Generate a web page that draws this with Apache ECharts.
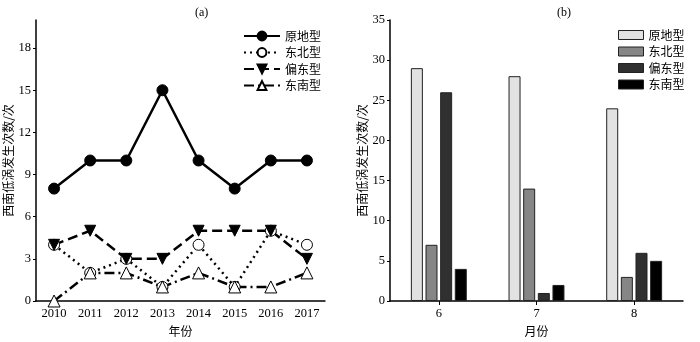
<!DOCTYPE html>
<html><head><meta charset="utf-8">
<script src="https://cdn.jsdelivr.net/npm/echarts@6/dist/echarts.min.js"></script>
<style>html,body{margin:0;padding:0;background:#fff}#c{width:700px;height:342px}</style>
</head><body><div id="c"></div>
<script>
const years = ['2010','2011','2012','2013','2014','2015','2016','2017'];
const months = ['6','7','8'];
const names = ['原地型','东北型','偏东型','东南型'];
const yuandi = [8,10,10,15,10,8,10,10];
const dongbei = [4,2,3,1,4,1,5,4];
const piandong = [4,5,3,3,5,5,5,3];
const dongnan = [0,2,2,1,2,1,1,2];
const barYuandi = [29,28,24];
const barDongbei = [7,14,3];
const barPiandong = [26,1,6];
const barDongnan = [4,2,5];
const barColors = ['#e2e2e2','#868686','#303030','#000'];
const yTicksA = [0,3,6,9,12,15,18];
const yTicksB = [0,5,10,15,20,25,30,35];

const serif = 'Liberation Serif';
const cjk = '"Noto Sans CJK SC"';
const axisTxt = {color:'#000', fontFamily:serif, fontSize:12.5};
const yName = '西南低涡发生次数/次';

function lineSeries(name, data, type, symbol, fill, rotate, size){
  return {name, type:'line', data, xAxisIndex:0, yAxisIndex:0,
    symbol, symbolSize:size, symbolRotate:rotate,
    lineStyle:{color:'#000', width:2.5, type},
    itemStyle:{color:fill, borderColor:'#000', borderWidth:1},
    z: 3};
}
function barSeries(name, data, color){
  return {name, type:'bar', data, xAxisIndex:1, yAxisIndex:1,
    barWidth:12, barGap:'22%',
    itemStyle:{color, borderColor:'#222', borderWidth:1}};
}

const option = {
  animation:false,
  title:[
    {text:'(a)', left:190, top:2, textStyle:{fontFamily:serif, fontSize:12, fontWeight:'normal', color:'#000'}},
    {text:'(b)', left:552, top:2, textStyle:{fontFamily:serif, fontSize:12, fontWeight:'normal', color:'#000'}}
  ],
  legend:[
    {data:names, left:238, top:25, orient:'vertical', itemWidth:36, itemHeight:11, itemGap:4.5,
     textStyle:{fontFamily:cjk, fontSize:12, color:'#000', lineHeight:12}},
    {data:names.map((n,i)=>({name:n, icon:'rect', itemStyle:{color:barColors[i], borderColor:'#222', borderWidth:1}})),
     left:613, top:24, orient:'vertical', itemWidth:25, itemHeight:9, itemGap:4.5,
     textStyle:{fontFamily:cjk, fontSize:12, color:'#000', lineHeight:12}}
  ],
  grid:[
    {left:36, right:375, top:20, bottom:34},
    {left:390, right:17, top:20, bottom:34}
  ],
  xAxis:[
    {type:'category', gridIndex:0, data:years, boundaryGap:true,
     axisLine:{lineStyle:{color:'#000', width:1.5}}, axisTick:{show:false},
     axisLabel:{...axisTxt, margin:6},
     name:'年份', nameLocation:'middle', nameGap:24, nameTextStyle:{fontFamily:cjk, fontSize:12, color:'#000'}},
    {type:'category', gridIndex:1, data:months, boundaryGap:true,
     axisLine:{lineStyle:{color:'#000', width:1.5}}, axisTick:{show:true, alignWithLabel:true, length:4, lineStyle:{color:'#000'}},
     axisLabel:{...axisTxt, margin:6},
     name:'月份', nameLocation:'middle', nameGap:24, nameTextStyle:{fontFamily:cjk, fontSize:12, color:'#000'}}
  ],
  yAxis:[
    {type:'value', gridIndex:0, min:yTicksA[0], max:20, interval:3,
     axisLine:{show:true, lineStyle:{color:'#000', width:1.5}}, axisTick:{show:true, length:3, lineStyle:{color:'#000'}},
     axisLabel:{...axisTxt, margin:5, showMaxLabel:false,
       formatter:v=>yTicksA.includes(v)?String(v):''},
     splitLine:{show:false},
     name:yName, nameLocation:'middle', nameGap:22, nameTextStyle:{fontFamily:cjk, fontSize:12, color:'#000'}},
    {type:'value', gridIndex:1, min:yTicksB[0], max:yTicksB[yTicksB.length-1], interval:5,
     axisLine:{show:true, lineStyle:{color:'#000', width:1.5}}, axisTick:{show:true, length:3, lineStyle:{color:'#000'}},
     axisLabel:{...axisTxt, margin:5},
     splitLine:{show:false},
     name:yName, nameLocation:'middle', nameGap:22, nameTextStyle:{fontFamily:cjk, fontSize:12, color:'#000'}}
  ],
  series:[
    lineSeries(names[0], yuandi, 'solid', 'circle', '#000', 0, 11),
    lineSeries(names[1], dongbei, [2,4], 'circle', '#fff', 0, 11),
    lineSeries(names[2], piandong, [10,5], 'triangle', '#000', 180, 11),
    lineSeries(names[3], dongnan, [10,4,2,4], 'triangle', '#fff', 0, 12),
    barSeries(names[0], barYuandi, barColors[0]),
    barSeries(names[1], barDongbei, barColors[1]),
    barSeries(names[2], barPiandong, barColors[2]),
    barSeries(names[3], barDongnan, barColors[3])
  ]
};
const chart = echarts.init(document.getElementById('c'), null, {renderer:'canvas'});
chart.setOption(option);
</script></body></html>
